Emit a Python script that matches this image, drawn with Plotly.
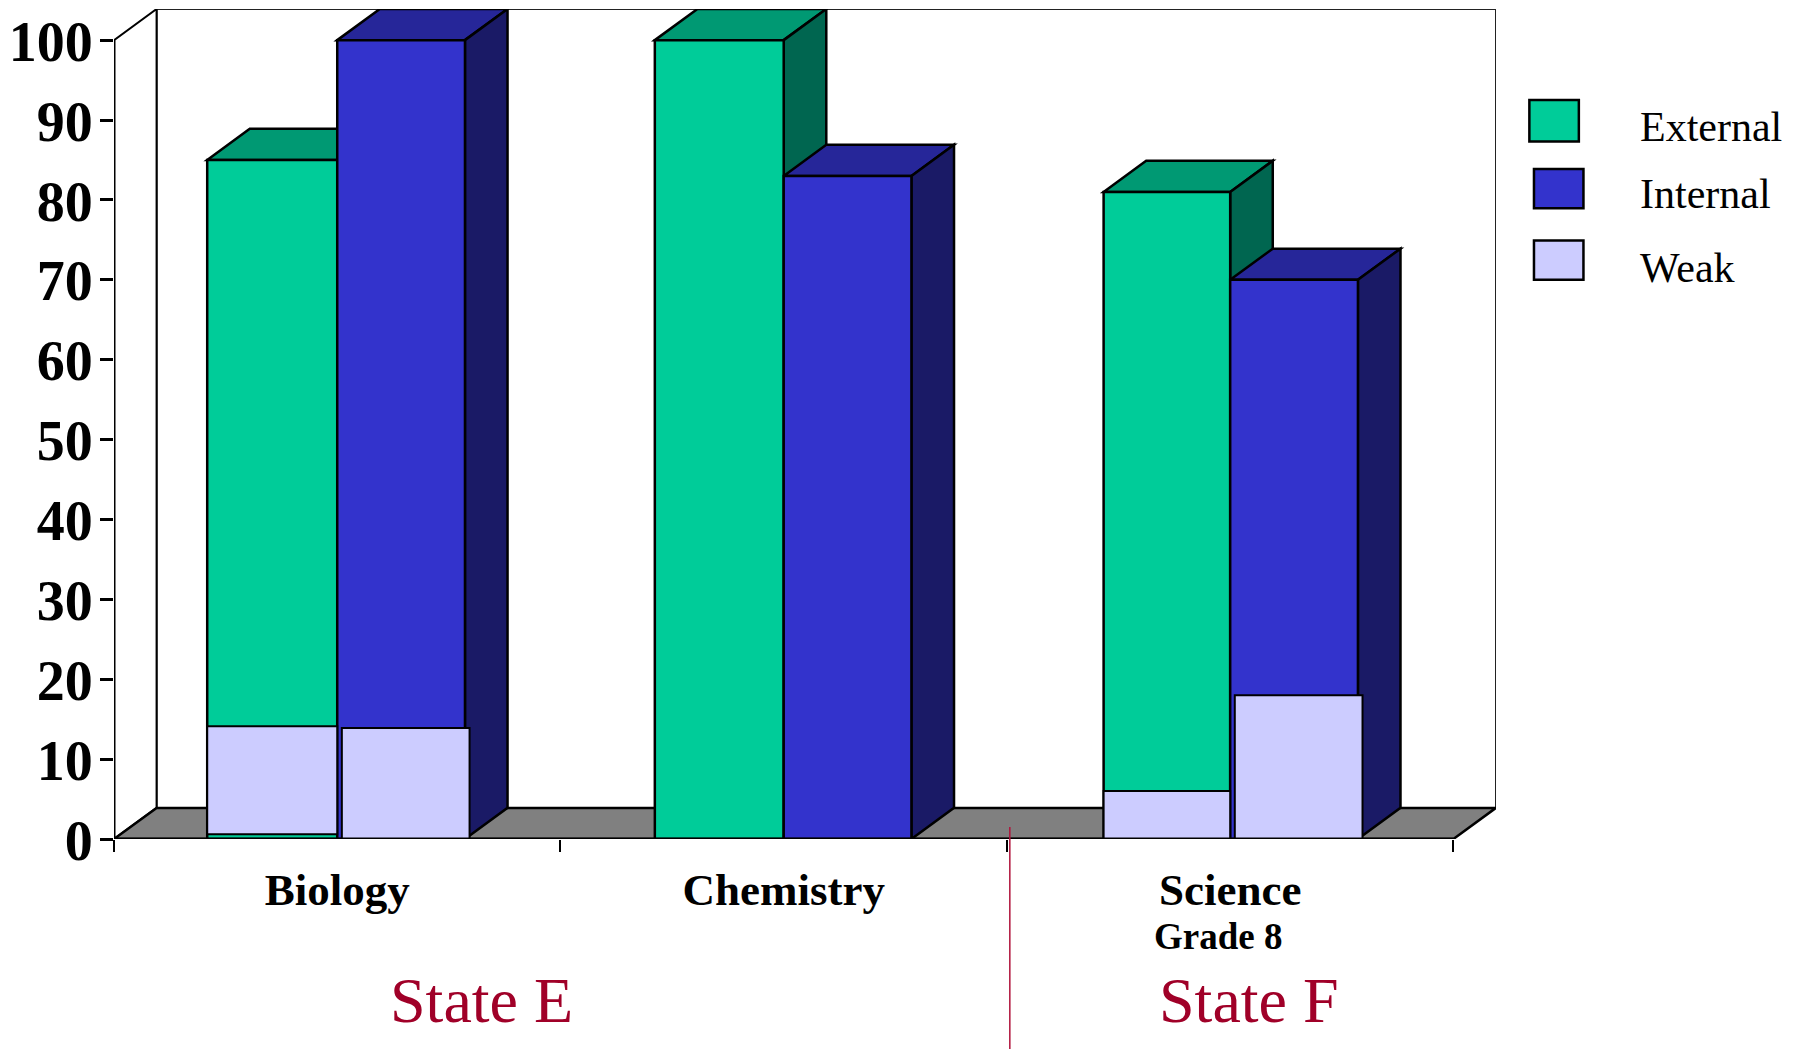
import plotly.graph_objects as go

# ---- data ----
categories = ["Biology", "Chemistry", "Science"]
external = [85, 100, 81]
internal = [100, 83, 70]
weak_external = [13.5, None, 6]
weak_external_base = [0.6, 0, 0]
weak_internal = [13.9, None, 18]
y_ticks = [0, 10, 20, 30, 40, 50, 60, 70, 80, 90, 100]
legend_labels = ["External", "Internal", "Weak"]

GREEN, GREEN_TOP, GREEN_SIDE = "#00CC99", "#009973", "#006650"
BLUE, BLUE_TOP, BLUE_SIDE = "#3333CC", "#262699", "#1A1A66"
WEAK = "#CCCCFF"
FLOOR = "#808080"
RED = "#A00028"
SERIF = "Liberation Serif"

W, H = 1805, 1049
S = 1805 / 1568           # reference layout scale
L, R, T, B = 99 * S, 1300 * S, 8 * S, 728.5 * S  # plot box pixels

DX = 37 / 388             # depth offset in category units
DY = 27 / 6.93            # depth offset in value units
BAR_W_EXT = [113 / 388, 112 / 388, 110 / 388]
BAR_W_INT = 111 / 388
WEAK_GAP = 4 / 388


def px(x):
    return (x * S - L) / (R - L)


def py(y):
    return (B - y * S) / (B - T)


def poly(pts, fill, lw=2.5, color="black"):
    d = "M " + " L ".join(f"{x} {y}" for x, y in pts) + " Z"
    return dict(type="path", path=d, xref="x", yref="y", fillcolor=fill,
                line=dict(color=color, width=lw), layer="below")


shapes = []
xl, xr = -0.5, len(categories) - 0.5
# walls and floor
shapes.append(poly([(xl + DX, DY), (xr + DX, DY), (xr + DX, 100 + DY), (xl + DX, 100 + DY)], "white", 2, "#222222"))
shapes.append(poly([(xl, 0), (xl + DX, DY), (xl + DX, 100 + DY), (xl, 100)], "white", 2))
shapes.append(poly([(xl, 0), (xl + DX, DY), (xr + DX, DY), (xr, 0)], FLOOR, 2.5))


def box_faces(x0, x1, v, top, side):
    return [
        poly([(x0, v), (x0 + DX, v + DY), (x1 + DX, v + DY), (x1, v)], top),
        poly([(x1, v), (x1 + DX, v + DY), (x1 + DX, DY), (x1, 0)], side),
    ]


for i in range(len(categories)):
    shapes += box_faces(i - BAR_W_EXT[i], i, external[i], GREEN_TOP, GREEN_SIDE)
    shapes += box_faces(i, i + BAR_W_INT, internal[i], BLUE_TOP, BLUE_SIDE)

# axis lines (the ranges are extended for the depth offset)
shapes.append(dict(type="line", xref="x", yref="y", x0=xl, x1=xl, y0=0, y1=100,
                   line=dict(color="black", width=3), layer="above"))
shapes.append(dict(type="line", xref="x", yref="y", x0=xl, x1=xr, y0=0, y1=0,
                   line=dict(color="black", width=3), layer="above"))

# divider between the two states
shapes.append(dict(type="line", xref="paper", yref="paper", x0=px(877.5), x1=px(877.5),
                   y0=py(718), y1=py(911), line=dict(color="#B0123B", width=1.5), layer="above"))

# legend keys
key_boxes = [(1329, 87, 1372, 123, GREEN), (1333, 147, 1376, 181, BLUE), (1333, 209, 1376, 243, WEAK)]
for x0, y0, x1, y1, c in key_boxes:
    shapes.append(dict(type="rect", xref="paper", yref="paper", x0=px(x0), x1=px(x1),
                       y0=py(y0), y1=py(y1), fillcolor=c, line=dict(color="black", width=2.5)))

neg_offsets = [-w for w in BAR_W_EXT]

fig = go.Figure()
fig.add_bar(x=categories, y=external, name="External", width=BAR_W_EXT, offset=neg_offsets,
            marker=dict(color=GREEN, line=dict(color="black", width=2.5)))
fig.add_bar(x=categories, y=internal, name="Internal", width=BAR_W_INT, offset=0,
            marker=dict(color=BLUE, line=dict(color="black", width=2.5)))
fig.add_bar(x=categories, y=weak_external, base=weak_external_base, name="Weak", width=BAR_W_EXT,
            offset=neg_offsets, marker=dict(color=WEAK, line=dict(color="black", width=2)))
fig.add_bar(x=categories, y=weak_internal, name="Weak", width=BAR_W_INT, offset=WEAK_GAP,
            marker=dict(color=WEAK, line=dict(color="black", width=2)))

annotations = []


def text(s, x, y, size, color="black", weight=400, xanchor="center"):
    annotations.append(dict(text=s, xref="paper", yref="paper", x=px(x), y=py(y), showarrow=False,
                            xanchor=xanchor, yanchor="middle", align="left",
                            font=dict(family=SERIF, size=size, color=color, weight=weight)))


text("Grade 8", 1058, 813, 37, weight=700)
text("State E", 418.5, 869, 64, color=RED)
text("State F", 1085, 869, 64, color=RED)
for lab, y in zip(legend_labels, [110, 169, 233]):
    text(lab, 1423, y, 42, xanchor="left")

fig.update_layout(
    barmode="overlay",
    width=W, height=H,
    margin=dict(l=L, r=W - R, t=T, b=H - B, pad=0),
    paper_bgcolor="white", plot_bgcolor="white",
    showlegend=False,
    shapes=shapes, annotations=annotations,
    font=dict(family=SERIF, color="black"),
    xaxis=dict(type="category", categoryorder="array", categoryarray=categories, automargin=False,
               range=[xl, xr + DX], tickson="boundaries", ticks="outside", ticklen=12, tickwidth=2,
               tickcolor="black", showgrid=False, zeroline=False, showline=False,
               ticklabelstandoff=20,
               tickfont=dict(family=SERIF, size=45, color="black", weight=700)),
    yaxis=dict(range=[0, 100 + DY], tickvals=y_ticks, ticks="outside", ticklen=13, tickwidth=2.5,
               tickcolor="black", showgrid=False, zeroline=False, showline=False, automargin=False,
               ticklabelstandoff=-4, ticklabelshift=1,
               tickfont=dict(family=SERIF, size=56, color="black", weight=700)),
)

fig.write_html("out.html", post_script="document.body.style.margin='0';",
               config={"displayModeBar": False})
